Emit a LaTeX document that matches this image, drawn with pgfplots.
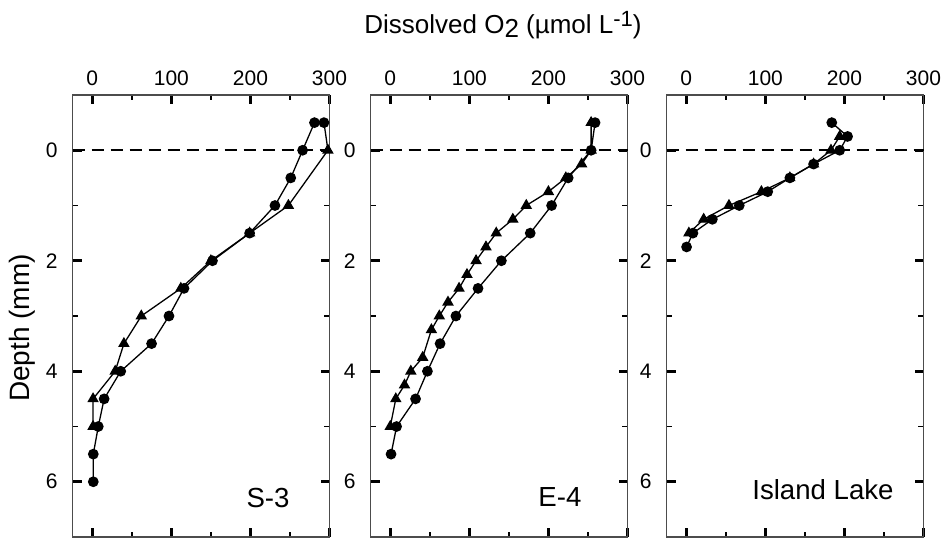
\documentclass[border=0pt]{standalone}
\usepackage{fontspec}
\setmainfont{Liberation Sans}
\usepackage{pgfplots}
\pgfplotsset{compat=1.18}

\pgfplotsset{
  o2panel/.style={
    scale only axis, width=128.5pt, height=221pt,
    anchor=south west,
    xmin=-25, xmax=300, ymin=-1, ymax=7, y dir=reverse,
    xtick={0,100,200,300}, minor xtick={50,150,250},
    ytick={0,2,4,6}, minor ytick={1,3,5},
    xtick pos=both, ytick pos=both,
    xticklabel pos=upper, yticklabel pos=lower,
    tick align=inside,
    major tick length=4.5pt, minor tick length=2.6pt,
    major tick style={line width=1.4pt, black},
    minor tick style={line width=0.9pt, black},
    axis line style={black!70, line width=0.6pt},
    /pgf/number format/assume math mode=true,
    ticklabel style={font=\fontsize{10.5}{12}\selectfont},
    xticklabel style={yshift=1pt},
    yticklabel style={xshift=-4pt},
    clip=false,
  },
  circ/.style={black, line width=0.65pt, mark=*, mark size=2.35pt, mark options={solid, fill=black}},
  tri/.style={black, line width=0.65pt, mark=triangle*, mark size=2.7pt, mark options={solid, fill=black}},
  zero/.style={black, line width=1pt, dash pattern=on 6pt off 3.5pt, forget plot},
}
\tikzset{lbl/.style={anchor=base east, inner sep=0pt, font=\fontsize{13.8}{16}\selectfont}}

\begin{document}
\begin{tikzpicture}
\useasboundingbox (0,0) rectangle (471.5pt,269pt);

% S-3
\begin{axis}[o2panel, at={(36.25pt,0.5pt)}]
\addplot[zero] coordinates {(-25,0) (300,0)};
\addplot[tri, mark indices={2,3,4,5,6,7,8,9,10,11}] coordinates {
  (293,-0.5) (298,0) (248,1.0) (199,1.5) (150,2.0) (112,2.5)
  (62,3.0) (40,3.5) (29,4.0) (1,4.5) (1,5.0)
};
\addplot[circ, only marks] coordinates {(293,-0.5)};
\addplot[circ] coordinates {
  (281,-0.5) (266,0) (251,0.5) (231,1.0) (199,1.5) (152,2.0) (116,2.5)
  (97,3.0) (75,3.5) (36,4.0) (15,4.5) (7.6,5.0) (1.3,5.5) (1.3,6.0)
};
\node[lbl] at (axis description cs:0.846,0.066) {S-3};
\end{axis}

% E-4
\begin{axis}[o2panel, at={(185.25pt,0.5pt)}]
\addplot[zero] coordinates {(-25,0) (300,0)};
\addplot[tri] coordinates {
  (254,-0.5) (254,0) (242,0.25) (222,0.5) (200,0.75) (172,1.0)
  (155,1.25) (134,1.5) (121,1.75) (108.5,2.0) (97,2.25) (87,2.5)
  (73,2.75) (62,3.0) (52,3.25) (41,3.75) (26,4.0) (18,4.25)
  (7,4.5) (0,5.0)
};
\addplot[circ] coordinates {
  (259,-0.5) (254,0) (225,0.5) (204,1.0) (177,1.5) (140.5,2.0)
  (111,2.5) (83,3.0) (63,3.5) (47,4.0) (32,4.5) (8,5.0) (1,5.5)
};
\node[lbl] at (axis description cs:0.822,0.070) {E-4};
\end{axis}

% Island Lake
\begin{axis}[o2panel, at={(333.25pt,0.5pt)}]
\addplot[zero] coordinates {(-25,0) (300,0)};
\addplot[tri] coordinates {
  (194,-0.25) (183,0) (161,0.25) (131,0.5) (95,0.75) (54,1.0)
  (22,1.25) (3.3,1.5)
};
\addplot[circ] coordinates {
  (184,-0.5) (204,-0.25) (194,0) (161,0.25) (131,0.5) (103,0.75)
  (67,1.0) (33,1.25) (8.4,1.5) (0.4,1.75)
};
\node[lbl] at (axis description cs:0.885,0.085) {Island Lake};
\end{axis}

\node[anchor=base, font=\fontsize{13}{15}\selectfont] at (251.5pt,252.4pt)
  {Dissolved O\raisebox{-1.9pt}{2} (µmol L\raisebox{3.6pt}{\fontsize{11}{13}\selectfont -1})};
\node[rotate=90, font=\fontsize{14}{16}\selectfont] at (11pt,105pt) {Depth (mm)};
\end{tikzpicture}
\end{document}
